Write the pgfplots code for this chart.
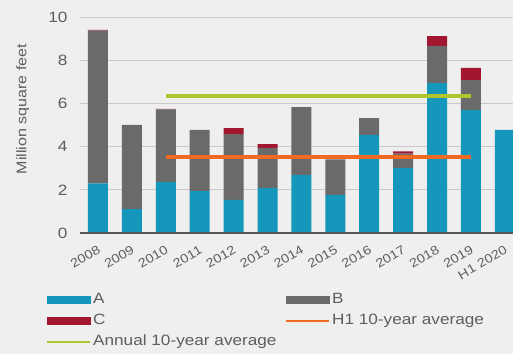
\documentclass[border=0pt]{standalone}
\usepackage{fontspec}
\setmainfont{Liberation Sans}[FakeStretch=1.15]
\usepackage{pgfplots}
\pgfplotsset{compat=1.18}
\definecolor{cA}{HTML}{1497BA}
\definecolor{cB}{HTML}{6A6A6A}
\definecolor{cC}{HTML}{A3162F}
\definecolor{cH}{HTML}{F26A21}
\definecolor{cY}{HTML}{B3C52C}
\definecolor{bgc}{HTML}{EFEFEF}
\definecolor{txt}{HTML}{5E5E5E}
\definecolor{gridc}{HTML}{C9C9C9}
\definecolor{axc}{HTML}{5A5656}
\pgfplotsset{base/.style={
  scale only axis, width=433bp, height=216bp,
  xmin=-0.53, xmax=12.24, ymin=0, ymax=10,
  clip=true,
}}
\begin{document}
\begin{tikzpicture}
\fill[bgc] (-80bp,-121bp) rectangle (433bp,233bp);
\begin{axis}[base,
  ybar stacked, bar width=0.59,
  ytick={0,2,4,6,8,10},
  ymajorgrids, grid style={gridc, line width=0.8bp},
  xtick={0,...,12},
  xticklabels={2008,2009,2010,2011,2012,2013,2014,2015,2016,2017,2018,2019,H1 2020},
  axis x line*=bottom, axis y line*=left,
  axis line style={draw=none},
  major tick length=0pt,
  /pgf/number format/assume math mode=true,
  yticklabel style={font=\fontsize{15}{18}\selectfont, text=txt, xshift=-9bp},
  xticklabel style={font=\fontsize{12.5}{15}\selectfont, text=txt, rotate=30, anchor=north east, yshift=-9bp, xshift=-6bp, inner sep=1bp},
  ylabel={Million square feet},
  ylabel style={font=\fontsize{14}{16}\selectfont, text=txt, at={(axis description cs:-0.132,0.574)}, anchor=center, rotate=0},
]
\addplot[fill=cA, draw=none] coordinates {(0,2.30) (1,1.10) (2,2.36) (3,1.94) (4,1.53) (5,2.08) (6,2.69) (7,1.76) (8,4.54) (9,3.00) (10,6.94) (11,5.69) (12,4.77)};
\addplot[fill=cB, draw=none] coordinates {(0,7.07) (1,3.90) (2,3.36) (3,2.83) (4,3.05) (5,1.85) (6,3.14) (7,1.65) (8,0.78) (9,0.68) (10,1.72) (11,1.39) (12,0)};
\addplot[fill=cC, draw=none] coordinates {(0,0.03) (1,0) (2,0.03) (3,0) (4,0.28) (5,0.19) (6,0) (7,0) (8,0) (9,0.10) (10,0.46) (11,0.57) (12,0)};
\end{axis}
\begin{axis}[base, hide axis,
  legend columns=2,
  legend cell align=left,
  legend style={at={(axis description cs:-0.0855,-0.255)}, anchor=north west, draw=none, fill=none,
    font=\fontsize{15}{18}\selectfont, text=txt, row sep=2bp,
    nodes={inner xsep=1.5bp, inner ysep=2.5bp, text height=11bp, text depth=3bp},
    /tikz/every even column/.append style={column sep=7bp}},
]
\addplot[axc, line width=2.4bp, forget plot] coordinates {(-0.53,0) (12.24,0)};
\addlegendimage{legend image code/.code={\fill[cA] (0bp,-3.5bp) rectangle (43bp,3.5bp);}}
\addlegendimage{legend image code/.code={\fill[cB] (0bp,-3.5bp) rectangle (43bp,3.5bp);}}
\addlegendimage{legend image code/.code={\fill[cC] (0bp,-3.5bp) rectangle (43bp,3.5bp);}}
\addplot[cH, line width=4bp, legend image code/.code={\draw[cH, line width=2.5bp] (0bp,0bp) -- (43bp,0bp);}] coordinates {(2,3.52) (11,3.52)};
\addplot[cY, line width=4bp, legend image code/.code={\draw[cY, line width=2.5bp] (0bp,0bp) -- (43bp,0bp);}] coordinates {(2,6.35) (11,6.35)};
\legend{A,B,C,H1 10-year average,Annual 10-year average}
\end{axis}
\pgfresetboundingbox
\path[use as bounding box] (-80bp,-121bp) rectangle (433bp,233bp);
\end{tikzpicture}
\end{document}
